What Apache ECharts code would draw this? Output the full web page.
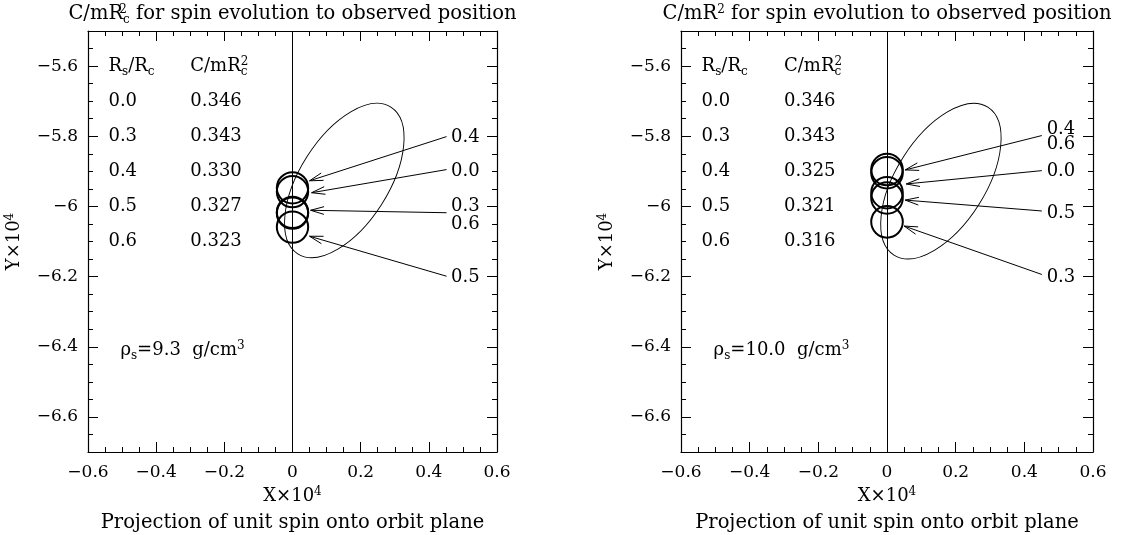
<!DOCTYPE html>
<html>
<head>
<meta charset="utf-8">
<script src="https://cdn.jsdelivr.net/npm/echarts@6/dist/echarts.min.js"></script>
<style>html,body{margin:0;background:#fff}#main{width:1123px;height:535px}</style>
</head>
<body>
<div id="main"></div>
<script>
// values, units of 1e-4
var xTicks = [-0.6, -0.4, -0.2, 0, 0.2, 0.4, 0.6];
var yTicks = [-6.6, -6.4, -6.2, -6.0, -5.8, -5.6];
var radiusRatio = ['0.0', '0.3', '0.4', '0.5', '0.6'];
var momentLeft = ['0.346', '0.343', '0.330', '0.327', '0.323'];
var momentRight = ['0.346', '0.343', '0.325', '0.321', '0.316'];
var densityLeft = '9.3';
var densityRight = '10.0';

// circle centres, same order as radiusRatio
var circleXLeft = [0, 0, 0, 0, 0];
var circleYLeft = [-5.958, -6.017, -5.947, -6.059, -6.019];
var circleXRight = [0, 0, 0, 0, 0];
var circleYRight = [-5.961, -6.044, -5.895, -5.976, -5.904];
var circleR = 0.046;

// ellipse: centre x, centre y, semi-major, semi-minor, tilt in degrees
var ellipseLeft = [0.152, -5.926, 0.255, 0.130, 57.6];
var ellipseRight = [0.157, -5.928, 0.255, 0.130, 57.6];

// arrow labels and arrows [x start, y start, x tip, y tip]
var arrowLabelsLeft = ['0.4', '0.0', '0.3', '0.6', '0.5'];
var arrowLabelYLeft = [-5.804, -5.901, -6.001, -6.050, -6.202];
var arrowsLeft = [
  [0.452, -5.801, 0.050, -5.927],
  [0.452, -5.895, 0.056, -5.961],
  [0.452, -6.018, 0.053, -6.011],
  [0.452, -6.199, 0.050, -6.085]
];
var arrowLabelsRight = ['0.4', '0.6', '0.0', '0.5', '0.3'];
var arrowLabelYRight = [-5.781, -5.824, -5.900, -6.019, -6.202];
var arrowsRight = [
  [0.451, -5.798, 0.053, -5.896],
  [0.451, -5.898, 0.056, -5.936],
  [0.451, -6.013, 0.053, -5.982],
  [0.451, -6.194, 0.050, -6.056]
];

var tableColX = [-0.54, -0.30];
var tableHeaderY = -5.6;
var tableRowY = [-5.7, -5.8, -5.9, -6.0, -6.1];
var arrowLabelX = 0.465;
var densityPos = [-0.505, -6.41];

var SERIF = '"DejaVu Serif", "Liberation Serif", serif';
var RICH = {
  n: {fontFamily: SERIF, fontSize: 18, lineHeight: 24, color: '#000', fill: '#000'},
  t: {fontFamily: SERIF, fontSize: 19.5, lineHeight: 24, color: '#000', fill: '#000'},
  b: {fontFamily: SERIF, fontSize: 12, lineHeight: 11, verticalAlign: 'bottom', color: '#000', fill: '#000'},
  p: {fontFamily: SERIF, fontSize: 12, verticalAlign: 'top', padding: [2, 0, 0, 0], color: '#000', fill: '#000'},
  q: {fontFamily: SERIF, fontSize: 12, verticalAlign: 'top', padding: [2, 0, 0, 0], width: 0, color: '#000', fill: '#000'}
};

var grids = [
  {left: 88, top: 31, width: 409, height: 421},
  {left: 681, top: 31, width: 412, height: 421}
];

function fmt(v) {
  return String(Math.round(v * 100) / 100).replace('-', '\u2212');
}

function xAx(gi, pos, labels) {
  return {
    type: 'value', gridIndex: gi, position: pos, min: -0.6, max: 0.6, interval: 0.2,
    axisLine: {show: true, onZero: false, lineStyle: {color: '#000', width: 1.2}},
    axisTick: {show: true, inside: true, length: 10, lineStyle: {color: '#000', width: 1}},
    minorTick: {show: true, splitNumber: 4, length: 5, lineStyle: {color: '#000', width: 1}},
    splitLine: {show: false}, minorSplitLine: {show: false},
    axisLabel: {show: labels, margin: 12, color: '#000', fontFamily: SERIF, fontSize: 17, formatter: fmt},
    name: labels ? '{n|X×10}{p|4}' : '', nameLocation: 'middle', nameGap: 29,
    nameTextStyle: {rich: RICH}
  };
}

function yAx(gi, pos, major) {
  var ax = {
    type: 'value', gridIndex: gi, position: pos, min: -6.7, max: -5.5, interval: 0.05,
    axisLine: {show: !major, onZero: false, lineStyle: {color: '#000', width: 1.2}},
    axisTick: {show: true, inside: true, length: major ? 10 : 5, lineStyle: {color: '#000', width: 1}},
    splitLine: {show: false},
    axisLabel: {show: false}
  };
  if (major) {
    ax.axisTick.customValues = yTicks;
    if (pos === 'left') {
      ax.axisLabel = {show: true, customValues: yTicks, margin: 10, color: '#000',
        fontFamily: SERIF, fontSize: 17, formatter: fmt};
      ax.name = '{n|Y×10}{p|4}';
      ax.nameLocation = 'middle';
      ax.nameRotate = 90;
      ax.nameGap = 62;
      ax.nameTextStyle = {rich: RICH};
    }
  }
  return ax;
}

function plotTexts(moments, labels, labelY, density) {
  var t = [];
  t.push([tableColX[0], tableHeaderY, '{n|R}{b|s}{n|/R}{b|c}']);
  t.push([tableColX[1], tableHeaderY, '{n|C/mR}{q|2}{b|c}']);
  radiusRatio.forEach(function (r, i) {
    t.push([tableColX[0], tableRowY[i], '{n|' + r + '}']);
    t.push([tableColX[1], tableRowY[i], '{n|' + moments[i] + '}']);
  });
  labels.forEach(function (l, i) {
    t.push([arrowLabelX, labelY[i], '{n|' + l + '}']);
  });
  t.push([densityPos[0], densityPos[1], '{n|ρ}{b|s}{n|=' + density + '  g/cm}{p|3}']);
  return t;
}

function textSeries(xi, yi, items) {
  return {
    type: 'custom', xAxisIndex: xi, yAxisIndex: yi, z: 5,
    data: items.map(function (t, i) { return [t[0], t[1], i]; }),
    renderItem: function (params, api) {
      var p = api.coord([api.value(0), api.value(1)]);
      return {
        type: 'text', x: p[0], y: p[1],
        style: {text: items[api.value(2)][2], rich: RICH, fill: '#000',
          align: 'left', textAlign: 'left', verticalAlign: 'middle', textVerticalAlign: 'middle'}
      };
    }
  };
}

function circleSeries(xi, yi, xs, ys) {
  return {
    type: 'custom', xAxisIndex: xi, yAxisIndex: yi, z: 4,
    data: xs.map(function (x, i) { return [x, ys[i], circleR]; }),
    renderItem: function (params, api) {
      var c = api.coord([api.value(0), api.value(1)]);
      var r = api.size([api.value(2), 0])[0];
      return {type: 'circle', shape: {cx: c[0], cy: c[1], r: r},
        style: {fill: 'none', stroke: '#000', lineWidth: 2}};
    },
    markLine: {
      silent: true, symbol: ['none', 'none'], label: {show: false},
      lineStyle: {color: '#000', width: 1, type: 'solid'},
      data: [{xAxis: 0}]
    }
  };
}

function ellipseSeries(xi, yi, e) {
  return {
    type: 'custom', xAxisIndex: xi, yAxisIndex: yi, z: 3,
    data: [e],
    renderItem: function (params, api) {
      var c = api.coord([api.value(0), api.value(1)]);
      var rx = api.size([api.value(2), 0])[0];
      var ry = api.size([api.value(3), 0])[0];
      return {type: 'ellipse', x: c[0], y: c[1], rotation: api.value(4) * Math.PI / 180,
        shape: {cx: 0, cy: 0, rx: rx, ry: ry},
        style: {fill: 'none', stroke: '#000', lineWidth: 0.9}};
    }
  };
}

function arrowSeries(xi, yi, arrows) {
  return {
    type: 'custom', xAxisIndex: xi, yAxisIndex: yi, z: 3,
    data: arrows,
    renderItem: function (params, api) {
      var a = api.coord([api.value(0), api.value(1)]);
      var b = api.coord([api.value(2), api.value(3)]);
      var ang = Math.atan2(b[1] - a[1], b[0] - a[0]);
      var L = 14, d = 16 * Math.PI / 180;
      var w1 = [b[0] - L * Math.cos(ang - d), b[1] - L * Math.sin(ang - d)];
      var w2 = [b[0] - L * Math.cos(ang + d), b[1] - L * Math.sin(ang + d)];
      var st = {fill: 'none', stroke: '#000', lineWidth: 1};
      return {type: 'group', children: [
        {type: 'line', shape: {x1: a[0], y1: a[1], x2: b[0], y2: b[1]}, style: st},
        {type: 'polyline', shape: {points: [w1, b, w2]}, style: st}
      ]};
    }
  };
}

var titleL = '{t|C/mR}{q|2}{b|c}{t| for spin evolution to observed position}';
var titleR = '{t|C/mR}{p|2}{t| for spin evolution to observed position}';
var subTitle = '{t|Projection of unit spin onto orbit plane}';

function headText(x, y, txt) {
  return {type: 'text', x: x, y: y,
    style: {text: txt, rich: RICH, fill: '#000', align: 'center', textAlign: 'center',
      verticalAlign: 'middle', textVerticalAlign: 'middle'}};
}
var cx0 = grids[0].left + grids[0].width / 2;
var cx1 = grids[1].left + grids[1].width / 2;

var myChart = echarts.init(document.getElementById('main'));
var option = {
  animation: false,
  backgroundColor: '#fff',
  grid: grids,
  xAxis: [xAx(0, 'bottom', true), xAx(0, 'top', false), xAx(1, 'bottom', true), xAx(1, 'top', false)],
  yAxis: [yAx(0, 'left', false), yAx(0, 'left', true), yAx(0, 'right', false), yAx(0, 'right', true),
          yAx(1, 'left', false), yAx(1, 'left', true), yAx(1, 'right', false), yAx(1, 'right', true)],
  graphic: [
    headText(cx0, 14, titleL), headText(cx1, 14, titleR),
    headText(cx0, 523, subTitle), headText(cx1, 523, subTitle)
  ],
  series: [
    ellipseSeries(0, 0, ellipseLeft),
    arrowSeries(0, 0, arrowsLeft),
    circleSeries(0, 0, circleXLeft, circleYLeft),
    textSeries(0, 0, plotTexts(momentLeft, arrowLabelsLeft, arrowLabelYLeft, densityLeft)),
    ellipseSeries(2, 4, ellipseRight),
    arrowSeries(2, 4, arrowsRight),
    circleSeries(2, 4, circleXRight, circleYRight),
    textSeries(2, 4, plotTexts(momentRight, arrowLabelsRight, arrowLabelYRight, densityRight))
  ]
};
myChart.setOption(option);
</script>
</body>
</html>
